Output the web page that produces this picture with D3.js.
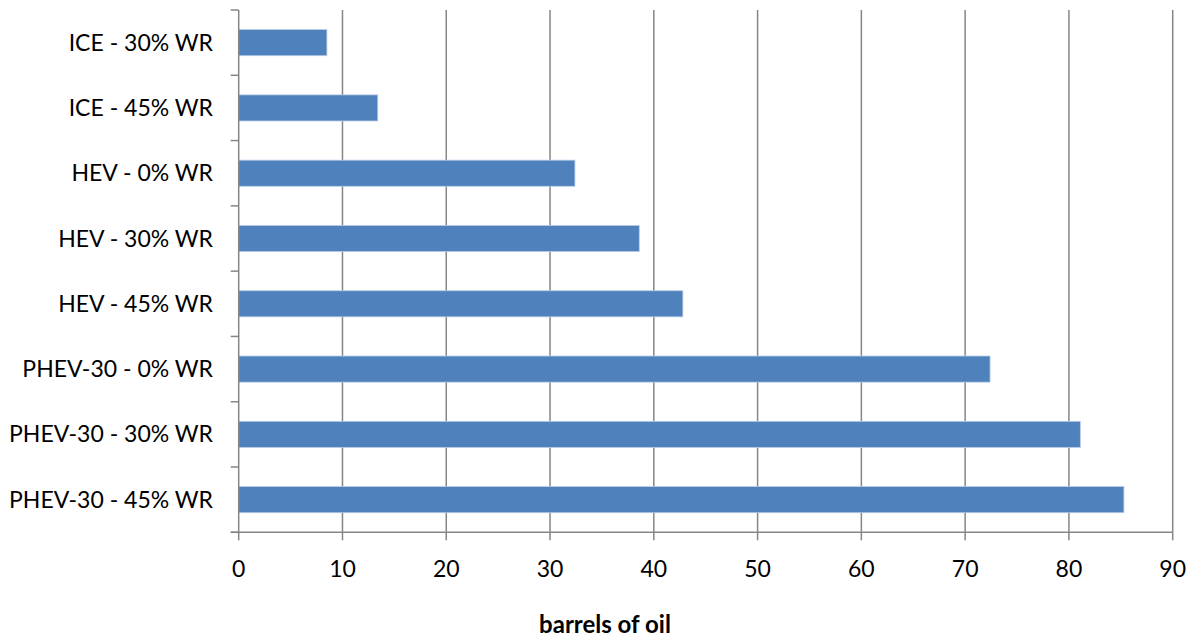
<!DOCTYPE html>
<html><head><meta charset="utf-8">
<script src="https://cdn.jsdelivr.net/npm/d3@7"></script>
<style>body{margin:0;background:#fff}svg{display:block}text{font-family:Lato,"Open Sans",sans-serif;fill:#000}</style>
</head><body><svg id="c" width="1193" height="643"></svg>
<script>
const categories = ["ICE - 30% WR","ICE - 45% WR","HEV - 0% WR","HEV - 30% WR","HEV - 45% WR","PHEV-30 - 0% WR","PHEV-30 - 30% WR","PHEV-30 - 45% WR"];
const values = [8.5, 13.4, 32.4, 38.6, 42.8, 72.4, 81.1, 85.3];
const xTicks = [0,10,20,30,40,50,60,70,80,90];
const xTitle = "barrels of oil";

const svg = d3.select("#c");
const m = {l:238.7, r:1172.7, t:10, b:532.3};
const x = d3.scaleLinear().domain([0,90]).range([m.l, m.r]);
const y = d3.scaleBand().domain(categories).range([m.t, m.b]).paddingInner(0.6).paddingOuter(0.3);
const grid = "#868686";

// gridlines
svg.append("g").selectAll("line").data(xTicks.slice(1)).join("line")
  .attr("x1", d=>x(d)).attr("x2", d=>x(d)).attr("y1", m.t).attr("y2", m.b)
  .attr("stroke", grid).attr("stroke-width", 1.5);

// bars
svg.append("g").selectAll("rect").data(values).join("rect")
  .attr("x", x(0)).attr("y", (d,i)=>y(categories[i]))
  .attr("width", d=>x(d)-x(0)).attr("height", y.bandwidth())
  .attr("fill", "#4F81BD").attr("stroke", "#B9CDE5").attr("stroke-width", 0.8);

// y axis
const band = (m.b - m.t)/categories.length;
const ya = svg.append("g");
ya.append("line").attr("x1", m.l).attr("x2", m.l).attr("y1", m.t).attr("y2", m.b).attr("stroke", grid).attr("stroke-width", 1.5);
ya.selectAll("line.t").data(d3.range(categories.length+1)).join("line").attr("class","t")
  .attr("x1", m.l-8).attr("x2", m.l).attr("y1", i=>m.t+i*band).attr("y2", i=>m.t+i*band)
  .attr("stroke", grid).attr("stroke-width", 1.5);
ya.selectAll("text").data(categories).join("text")
  .attr("x", 213).attr("y", d=>y(d)+y.bandwidth()/2).attr("dy","0.35em")
  .attr("text-anchor","end").attr("font-size", 23).text(d=>d);

// x axis
const xa = svg.append("g");
xa.append("line").attr("x1", m.l-8).attr("x2", m.r).attr("y1", m.b).attr("y2", m.b).attr("stroke", grid).attr("stroke-width", 1.5);
xa.selectAll("line.t").data(xTicks).join("line").attr("class","t")
  .attr("x1", d=>x(d)).attr("x2", d=>x(d)).attr("y1", m.b).attr("y2", m.b+8)
  .attr("stroke", grid).attr("stroke-width", 1.5);
xa.selectAll("text").data(xTicks).join("text")
  .attr("x", d=>x(d)).attr("y", 577).attr("text-anchor","middle").attr("font-size", 23).text(d=>d);

svg.append("text").attr("x", 605).attr("y", 633).attr("text-anchor","middle")
  .attr("font-size", 24).attr("font-weight","bold").text(xTitle);
</script></body></html>
